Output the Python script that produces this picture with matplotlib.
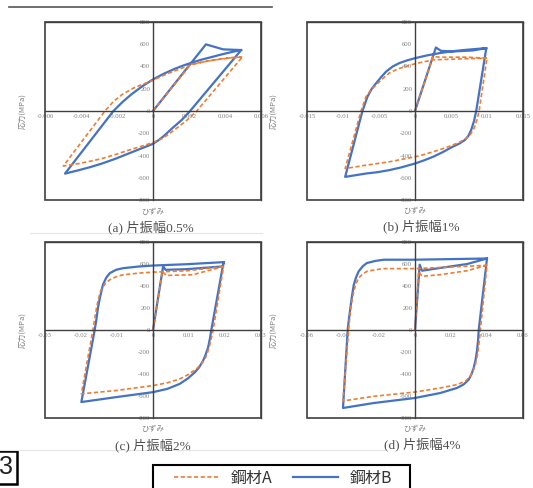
import matplotlib.pyplot as plt
from matplotlib.patches import Rectangle
from matplotlib.lines import Line2D

plt.rcParams['axes.unicode_minus'] = False

W, H = 533, 488

# --- data: strain, stress (MPa) ---
# (a) amplitude 0.5%
a_A_strain = [0, 0.0021, 0.00326, 0.00437, 0.00496,
              0.00243, 0.0019, 0.0014, 0.0009, 0.0005, 0,
              -0.0007, -0.00137, -0.0021, -0.00285, -0.0035, -0.00415, -0.00498,
              -0.00267, -0.0022, -0.0017, -0.0011, -0.0005, 0, 0.0005, 0.00104, 0.0016,
              0.00215, 0.0027, 0.00326, 0.0038, 0.00437, 0.00496]
a_A_stress = [0, 420, 455, 479, 485,
              0, -80, -144, -205, -249, -284,
              -320, -353, -392, -428, -452, -473, -494,
              0, 85, 150, 205, 245, 275, 315, 350, 385,
              416, 438, 455, 469, 479, 485]
a_B_strain = [0, 0.00294, 0.0039, 0.0049,
              0.00206, 0.0016, 0.00104, 0.0006, 0.0003, 0,
              -0.0007, -0.00137, -0.0021, -0.00285, -0.0035, -0.00415, -0.00489,
              -0.0022, -0.0017, -0.0012, -0.0006, 0, 0.0006, 0.00122, 0.0017,
              0.00215, 0.0027, 0.00326, 0.0038, 0.00437, 0.0049]
a_B_stress = [0, 599, 554, 548,
              0, -80, -159, -225, -263, -295,
              -340, -383, -430, -473, -505, -533, -563,
              0, 80, 150, 222, 284, 335, 380, 410,
              434, 462, 485, 508, 530, 548]

# (b) amplitude 1%
b_A_strain = [0, 0.0025, 0.0034, 0.0071, 0.01,
              0.0089, 0.0086, 0.0082, 0.0077, 0.0071, 0.0062, 0.0052, 0.0039, 0.0025, 0.0012, 0,
              -0.0036, -0.0068, -0.0097,
              -0.0075, -0.0068, -0.0061, -0.0054, -0.0045, -0.0036, -0.0025, -0.0013, 0,
              0.0025, 0.0071, 0.01]
b_A_stress = [0, 490, 484, 484, 475,
              0, -80, -156, -210, -247, -280, -307, -338, -367, -392, -412,
              -457, -487, -517,
              0, 129, 190, 235, 290, 340, 375, 400, 425,
              460, 470, 475]
b_B_strain = [0, 0.0029, 0.0036, 0.0052, 0.008, 0.0099,
              0.0085, 0.0082, 0.0078, 0.0074, 0.0069, 0.0061, 0.0052, 0.0039, 0.0025, 0.0012, 0,
              -0.0018, -0.0036, -0.0052, -0.0068, -0.0097,
              -0.0073, -0.0066, -0.006, -0.0054, -0.0047, -0.004, -0.0031, -0.0022, -0.0011, 0,
              0.0017, 0.0034, 0.0052, 0.0071, 0.0099]
b_B_stress = [0, 571, 541, 535, 544, 565,
              0, -90, -171, -225, -262, -295, -322, -368, -412, -445, -472,
              -505, -532, -550, -562, -592,
              0, 129, 200, 250, 305, 355, 400, 430, 455, 475,
              500, 520, 537, 550, 565]

# (c) amplitude 2%
c_A_strain = [0, 0.0026, 0.0037, 0.011, 0.0196,
              0.0167, 0.0162, 0.0157, 0.0151, 0.0144, 0.0133, 0.012, 0.0098, 0.0074, 0.004, 0,
              -0.0102, -0.0199,
              -0.0167, -0.0162, -0.0157, -0.0151, -0.0144, -0.0133, -0.012, -0.0102, -0.0083,
              -0.004, 0, 0.0093, 0.0196]
c_A_stress = [0, 532, 496, 502, 577,
              0, -75, -144, -210, -265, -315, -355, -405, -445, -480, -505,
              -550, -580,
              0, 100, 200, 290, 367, 420, 457, 485, 502,
              517, 526, 538, 577]
c_B_strain = [0, 0.0028, 0.0035, 0.0093, 0.0194, 0.0196,
              0.0162, 0.0158, 0.0153, 0.0146, 0.0139, 0.0128, 0.0116, 0.0097, 0.0074, 0.004, 0,
              -0.0102, -0.0199,
              -0.0162, -0.0157, -0.0153, -0.0147, -0.0139, -0.013, -0.012, -0.0102, -0.0083,
              -0.004, 0, 0.0093, 0.0196]
c_B_stress = [0, 578, 547, 553, 578, 617,
              0, -80, -159, -225, -280, -340, -385, -440, -490, -535, -565,
              -610, -655,
              0, 100, 200, 300, 412, 475, 517, 548, 562,
              577, 586, 598, 617]

# (d) amplitude 4%
d_A_strain = [0, 0.002, 0.0039, 0.014, 0.029, 0.04,
              0.0363, 0.0357, 0.035, 0.0343, 0.0335, 0.0322, 0.0307, 0.028, 0.0233, 0.014, 0,
              -0.023, -0.04,
              -0.0369, -0.0364, -0.0359, -0.035, -0.034, -0.0328, -0.0313, -0.029, -0.0267,
              -0.022, -0.0174, 0, 0.04]
d_A_stress = [0, 533, 488, 503, 539, 588,
              0, -100, -194, -260, -315, -375, -421, -465, -497, -527, -564,
              -603, -645,
              0, 85, 170, 270, 352, 420, 473, 510, 533,
              548, 558, 558, 588]
d_B_strain = [0, 0.0026, 0.0039, 0.014, 0.029, 0.04,
              0.0354, 0.035, 0.0344, 0.0336, 0.0326, 0.0313, 0.0298, 0.027, 0.0233, 0.014, 0,
              -0.023, -0.04,
              -0.0374, -0.0367, -0.0359, -0.035, -0.034, -0.0327, -0.0313, -0.029, -0.0267,
              -0.022, -0.0174, 0, 0.04]
d_B_stress = [0, 594, 539, 564, 600, 650,
              0, -100, -194, -275, -345, -405, -452, -495, -527, -573, -618,
              -664, -709,
              0, 100, 200, 310, 412, 480, 533, 580, 609,
              628, 639, 639, 650]

x_ticks_a = [-0.006, -0.004, -0.002, 0, 0.002, 0.004, 0.006]
x_labels_a = ['-0.006', '-0.004', '-0.002', '0', '0.002', '0.004', '0.006']
x_ticks_b = [-0.015, -0.01, -0.005, 0, 0.005, 0.01, 0.015]
x_labels_b = ['-0.015', '-0.01', '-0.005', '0', '0.005', '0.01', '0.015']
x_ticks_c = [-0.03, -0.02, -0.01, 0, 0.01, 0.02, 0.03]
x_labels_c = ['-0.03', '-0.02', '-0.01', '0', '0.01', '0.02', '0.03']
x_ticks_d = [-0.06, -0.04, -0.02, 0, 0.02, 0.04, 0.06]
x_labels_d = ['-0.06', '-0.04', '-0.02', '0', '0.02', '0.04', '0.06']
y_ticks = [-800, -600, -400, -200, 0, 200, 400, 600, 800]
y_labels = ['-800', '-600', '-400', '-200', '0', '200', '400', '600', '800']

captions = ['(a) 片振幅0.5%', '(b) 片振幅1%', '(c) 片振幅2%', '(d) 片振幅4%']
series_names = ['鋼材A', '鋼材B']
x_label = 'ひずみ'
y_label = '応力(MPa)'

col_A = '#ED7D31'
col_B = '#4472C4'
grey = '#808080'
cjk = ['Noto Sans CJK JP', 'DejaVu Sans']
num_font = ['Liberation Serif', 'Noto Sans CJK JP']

fig = plt.figure(figsize=(W / 100, H / 100), dpi=100)


def fx(px):
    return px / W


def fy(px):
    return 1 - px / H


panels = [
    # data, ticks, box (left, top, width, height px), ylabel x, xlabel y, caption x, caption y
    (a_A_strain, a_A_stress, a_B_strain, a_B_stress, x_ticks_a, x_labels_a, (45, 22, 216, 178), 22, 212, 151, 227),
    (b_A_strain, b_A_stress, b_B_strain, b_B_stress, x_ticks_b, x_labels_b, (307, 22, 216, 178), 273, 211, 421, 226),
    (c_A_strain, c_A_stress, c_B_strain, c_B_stress, x_ticks_c, x_labels_c, (45, 242, 216, 176), 22, 429, 153, 445),
    (d_A_strain, d_A_stress, d_B_strain, d_B_stress, x_ticks_d, x_labels_d, (307, 242, 216, 176), 273, 429, 422, 444),
]

handles = None
for i, (ax_, ay_, bx_, by_, xt, xl, box, ylx, xly, cx, cy) in enumerate(panels):
    l, t, w, h = box
    ax = fig.add_axes([fx(l), fy(t + h), w / W, h / H])
    lB, = ax.plot(bx_, by_, color=col_B, lw=1.6, solid_joinstyle='round')
    lA, = ax.plot(ax_, ay_, color=col_A, lw=1.2, linestyle=(0, (2.5, 1.5)))
    if handles is None:
        handles = [lA, lB]
    ax.set_xlim(xt[0], xt[-1])
    ax.set_ylim(-800, 800)
    ax.set_xticks(xt)
    ax.set_xticklabels(xl)
    ax.set_yticks(y_ticks)
    ax.set_yticklabels(y_labels)
    ax.spines['left'].set_position(('data', 0))
    ax.spines['bottom'].set_position(('data', 0))
    for s in ax.spines.values():
        s.set_color('#404040')
        s.set_linewidth(1.0)
    ax.add_patch(Rectangle((0, 0), 1, 1, transform=ax.transAxes, fill=False,
                           edgecolor='#404040', lw=1.2, clip_on=False, zorder=5))
    ax.tick_params(length=0, pad=2, labelsize=4.8, labelcolor=grey)
    for lab in ax.get_xticklabels() + ax.get_yticklabels():
        lab.set_family(num_font)
    ax.patch.set_alpha(0)

    fig.text(fx(ylx), fy(t + h / 2), y_label, rotation=90, ha='center', va='center',
             fontsize=5.5, color=grey, family=cjk)
    fig.text(fx(l + w / 2), fy(xly), x_label, ha='center', va='center',
             fontsize=5.5, color=grey, family=cjk)
    fig.text(fx(cx), fy(cy), captions[i], ha='center', va='center',
             fontsize=9.5, color='#505050', family=num_font)

# top rule and faint separators
fig.add_artist(Line2D([fx(9), fx(272)], [fy(7), fy(7)], color='#555555', lw=1.2))
fig.add_artist(Line2D([fx(30), fx(262)], [fy(233), fy(233)], color='#e6e6e6', lw=0.8))
fig.add_artist(Line2D([fx(0), fx(385)], [fy(450), fy(450)], color='#e6e6e6', lw=0.8))

# cropped figure number box
fig.add_artist(Rectangle((fx(-4), fy(484)), 21 / W, 33 / H, transform=fig.transFigure,
                         fill=False, edgecolor='black', lw=1.8))
fig.text(fx(6.5), fy(467), '3', ha='center', va='center', fontsize=18, color='#222222',
         family='Liberation Sans')

# legend (frame drawn separately so it runs off the bottom edge as in the scan)
leg = fig.legend(handles, series_names, loc='center', bbox_to_anchor=(fx(283), fy(478)),
                 ncol=2, prop={'family': cjk, 'size': 11.5}, frameon=False,
                 handlelength=2.8, handletextpad=0.75, columnspacing=1.3, borderpad=0)
for txt in leg.get_texts():
    txt.set_color('#333333')
fig.add_artist(Rectangle((fx(153), fy(495)), 257 / W, 30 / H, transform=fig.transFigure,
                         fill=False, edgecolor='black', lw=1.5))

fig.savefig('out.png', dpi=100)
